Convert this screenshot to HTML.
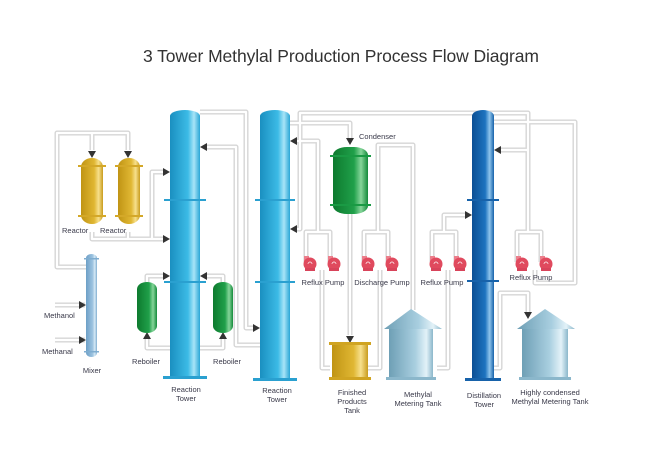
<!DOCTYPE html>
<html><head><meta charset="utf-8"><style>
html,body{margin:0;padding:0;background:#fff;}
svg{display:block;}
text{font-family:"Liberation Sans",Arial,sans-serif;fill:#3a3a4a;font-size:7.5px;}
</style></head><body>
<svg width="650" height="459" viewBox="0 0 650 459" xmlns="http://www.w3.org/2000/svg">
<defs>
<linearGradient id="blue" x1="0" x2="1"><stop offset="0" stop-color="#1a8fc0"/><stop offset="0.6" stop-color="#3cbbe6"/><stop offset="0.8" stop-color="#a8e4f7"/><stop offset="1" stop-color="#2aa6d6"/></linearGradient>
<linearGradient id="dblue" x1="0" x2="1"><stop offset="0" stop-color="#0c4f94"/><stop offset="0.6" stop-color="#1d73bf"/><stop offset="0.8" stop-color="#8fc4ec"/><stop offset="1" stop-color="#1762aa"/></linearGradient>
<linearGradient id="gold" x1="0" x2="1"><stop offset="0" stop-color="#c09414"/><stop offset="0.6" stop-color="#e0b733"/><stop offset="0.8" stop-color="#f7e08c"/><stop offset="1" stop-color="#c99c1e"/></linearGradient>
<linearGradient id="green" x1="0" x2="1"><stop offset="0" stop-color="#0d7a2e"/><stop offset="0.6" stop-color="#20a04a"/><stop offset="0.8" stop-color="#86d59a"/><stop offset="1" stop-color="#148a3a"/></linearGradient>
<linearGradient id="lblue" x1="0" x2="1"><stop offset="0" stop-color="#6d9fc6"/><stop offset="0.6" stop-color="#9cc3e0"/><stop offset="0.8" stop-color="#d4e8f5"/><stop offset="1" stop-color="#7fadd0"/></linearGradient>
<linearGradient id="tank" x1="0" x2="1"><stop offset="0" stop-color="#6e9fb5"/><stop offset="0.6" stop-color="#a9cfe0"/><stop offset="0.85" stop-color="#e3f2f8"/><stop offset="1" stop-color="#8bb7cb"/></linearGradient>
<g id="pp"><rect x="-6" y="-8" width="5" height="6" fill="#ec7f8c"/><circle r="6.5" cx="0" cy="0" fill="#e04a5e"/><rect x="-5" y="4" width="10" height="3" fill="#d8435a"/><path d="M-2,0 a2,2 0 0 1 4,0" stroke="#fff" stroke-width="0.7" fill="none"/></g>
</defs>

<text x="341" y="62" text-anchor="middle" style="font-size:17.5px;fill:#333" textLength="396">3 Tower Methylal Production Process Flow Diagram</text>

<g fill="none" stroke-linejoin="round" stroke="#d6d6d6" stroke-width="5">
<path d="M91,267 H57 V133 H128 V150 M92,133 V150"/>
<path d="M92,232 V239 H165 M128,232 V239 M152,239 V172 H165"/>
<path d="M55,305 H85 M55,340 H85"/>
<path d="M147,282 V276 H165 M170,348 H147 V337"/>
<path d="M205,276 H223 V282 M200,348 H223 V337"/>
<path d="M200,112 H246 V328 H255"/>
<path d="M205,147 H236 V345 H260"/>
<path d="M290,123 H350 V140"/>
<path d="M295,141 H318 V232 M306,262 V232 H330 V262"/>
<path d="M295,229 H300 V113 H528 V232 M517,262 V232 H541 V262 M528,150 H499"/>
<path d="M494,122 H575 V283 H535 V270"/>
<path d="M350,213 V335"/>
<path d="M364,262 V232 H388 V262 M378,232 V145 H413 V310"/>
<path d="M322,270 V368 H330 M380,270 V368 H368"/>
<path d="M432,262 V232 H456 V262 M444,232 V215 H467 M448,270 V368 H437"/>
<path d="M494,368 H500 V293 H528 V312"/>
</g>
<g fill="none" stroke="#fff" stroke-width="2.2" stroke-linejoin="round">
<path d="M91,267 H57 V133 H128 V150 M92,133 V150"/>
<path d="M92,232 V239 H165 M128,232 V239 M152,239 V172 H165"/>
<path d="M55,305 H85 M55,340 H85"/>
<path d="M147,282 V276 H165 M170,348 H147 V337"/>
<path d="M205,276 H223 V282 M200,348 H223 V337"/>
<path d="M200,112 H246 V328 H255"/>
<path d="M205,147 H236 V345 H260"/>
<path d="M290,123 H350 V140"/>
<path d="M295,141 H318 V232 M306,262 V232 H330 V262"/>
<path d="M295,229 H300 V113 H528 V232 M517,262 V232 H541 V262 M528,150 H499"/>
<path d="M494,122 H575 V283 H535 V270"/>
<path d="M350,213 V335"/>
<path d="M364,262 V232 H388 V262 M378,232 V145 H413 V310"/>
<path d="M322,270 V368 H330 M380,270 V368 H368"/>
<path d="M432,262 V232 H456 V262 M444,232 V215 H467 M448,270 V368 H437"/>
<path d="M494,368 H500 V293 H528 V312"/>
</g>

<g fill="#333">
<path d="M88,151 h8 l-4,7z M124,151 h8 l-4,7z"/>
<path d="M163,168 v8 l7,-4z M163,235 v8 l7,-4z M163,272 v8 l7,-4z"/>
<path d="M79,301 v8 l7,-4z M79,336 v8 l7,-4z"/>
<path d="M143,339 h8 l-4,-7z M219,339 h8 l-4,-7z"/>
<path d="M207,272 v8 l-7,-4z M207,143 v8 l-7,-4z"/>
<path d="M253,324 v8 l7,-4z"/>
<path d="M297,137 v8 l-7,-4z M297,225 v8 l-7,-4z"/>
<path d="M346,138 h8 l-4,7z M346,336 h8 l-4,7z"/>
<path d="M465,211 v8 l7,-4z M501,146 v8 l-7,-4z M524,312 h8 l-4,7z"/>
</g>

<g>
<rect x="170" y="110" width="30" height="268" rx="15" ry="6" fill="url(#blue)"/>
<rect x="170" y="360" width="30" height="18" fill="url(#blue)"/>
<rect x="163" y="376" width="44" height="3" fill="#2aa0d0"/>
<rect x="164" y="199" width="42" height="2" fill="#2aa0d0"/>
<rect x="164" y="281" width="42" height="2" fill="#2aa0d0"/>
<rect x="260" y="110" width="30" height="270" rx="15" ry="6" fill="url(#blue)"/>
<rect x="260" y="360" width="30" height="20" fill="url(#blue)"/>
<rect x="253" y="378" width="44" height="3" fill="#2aa0d0"/>
<rect x="255" y="199" width="40" height="2" fill="#2aa0d0"/>
<rect x="255" y="281" width="40" height="2" fill="#2aa0d0"/>
<rect x="472" y="110" width="22" height="270" rx="11" ry="6" fill="url(#dblue)"/>
<rect x="472" y="360" width="22" height="20" fill="url(#dblue)"/>
<rect x="465" y="378" width="36" height="3" fill="#1762aa"/>
<rect x="467" y="199" width="32" height="2" fill="#1762aa"/>
<rect x="467" y="280" width="32" height="2" fill="#1762aa"/>
</g>

<g>
<rect x="81" y="158" width="22" height="66" rx="11" ry="9" fill="url(#gold)"/>
<rect x="78" y="165" width="28" height="2" fill="#d4a828"/><rect x="78" y="215" width="28" height="2" fill="#d4a828"/>
<rect x="118" y="158" width="22" height="66" rx="11" ry="9" fill="url(#gold)"/>
<rect x="115" y="165" width="28" height="2" fill="#d4a828"/><rect x="115" y="215" width="28" height="2" fill="#d4a828"/>
</g>
<rect x="86" y="254" width="11" height="103" rx="5.5" ry="4" fill="url(#lblue)"/>
<rect x="84" y="258" width="15" height="1.5" fill="#7fadd0"/><rect x="84" y="351" width="15" height="1.5" fill="#7fadd0"/>
<rect x="137" y="282" width="20" height="51" rx="10" ry="7" fill="url(#green)"/>
<rect x="213" y="282" width="20" height="51" rx="10" ry="7" fill="url(#green)"/>
<rect x="333" y="147" width="35" height="67" rx="14" ry="8" fill="url(#green)"/>
<rect x="330" y="155" width="41" height="2" fill="#1a9a44"/><rect x="330" y="204" width="41" height="2" fill="#1a9a44"/>
<rect x="332" y="344" width="36" height="34" fill="url(#gold)"/>
<rect x="329" y="342" width="42" height="3" fill="#d0a422"/><rect x="329" y="377" width="42" height="3" fill="#d0a422"/>
<g>
<polygon points="411,309 384,329 442,329" fill="url(#tank)"/>
<rect x="389" y="329" width="44" height="49" fill="url(#tank)"/>
<rect x="386" y="377" width="50" height="3" fill="#8bb7cb"/>
<polygon points="545,309 517,329 575,329" fill="url(#tank)"/>
<rect x="522" y="329" width="46" height="49" fill="url(#tank)"/>
<rect x="519" y="377" width="52" height="3" fill="#8bb7cb"/>
</g>
<use href="#pp" x="310" y="264"/><use href="#pp" x="334" y="264"/>
<use href="#pp" x="368" y="264"/><use href="#pp" x="392" y="264"/>
<use href="#pp" x="436" y="264"/><use href="#pp" x="460" y="264"/>
<use href="#pp" x="522" y="264"/><use href="#pp" x="546" y="264"/>

<text x="62" y="233">Reactor</text>
<text x="100" y="233">Reactor</text>
<text x="44" y="318">Methanol</text>
<text x="42" y="354">Methanal</text>
<text x="92" y="373" text-anchor="middle">Mixer</text>
<text x="146" y="364" text-anchor="middle">Reboiler</text>
<text x="227" y="364" text-anchor="middle">Reboiler</text>
<text x="186" y="392" text-anchor="middle">Reaction</text>
<text x="186" y="401" text-anchor="middle">Tower</text>
<text x="277" y="393" text-anchor="middle">Reaction</text>
<text x="277" y="402" text-anchor="middle">Tower</text>
<text x="359" y="139">Condenser</text>
<text x="323" y="285" text-anchor="middle">Reflux Pump</text>
<text x="382" y="285" text-anchor="middle">Discharge Pump</text>
<text x="442" y="285" text-anchor="middle">Reflux Pump</text>
<text x="531" y="280" text-anchor="middle">Reflux Pump</text>
<text x="352" y="395" text-anchor="middle">Finished</text>
<text x="352" y="404" text-anchor="middle">Products</text>
<text x="352" y="413" text-anchor="middle">Tank</text>
<text x="418" y="397" text-anchor="middle">Methylal</text>
<text x="418" y="406" text-anchor="middle">Metering Tank</text>
<text x="484" y="398" text-anchor="middle">Distillation</text>
<text x="484" y="407" text-anchor="middle">Tower</text>
<text x="550" y="395" text-anchor="middle">Highly condensed</text>
<text x="550" y="404" text-anchor="middle">Methylal Metering Tank</text>
</svg>
</body></html>
